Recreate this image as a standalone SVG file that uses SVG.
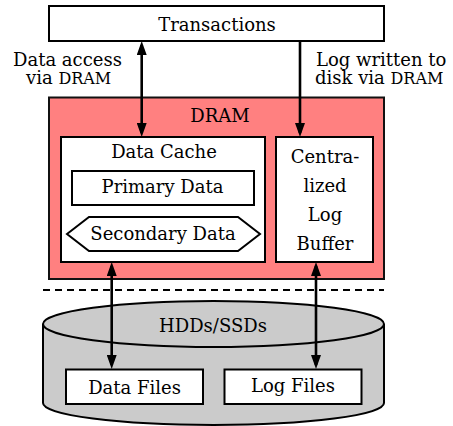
<svg xmlns="http://www.w3.org/2000/svg" width="453" height="426" viewBox="0 0 453 426">
<style>
text{font-family:"DejaVu Serif","Liberation Serif",serif;font-size:18px;fill:#000}
.c{text-anchor:middle}
.box{fill:#fff;stroke:#000;stroke-width:2}
.conn{stroke:#000;stroke-width:2.6;fill:none}
.sc{font-size:16px}
</style>
<defs>
<marker id="ah" viewBox="0 0 14 10" refX="10" refY="5" markerWidth="14" markerHeight="10" markerUnits="userSpaceOnUse" orient="auto-start-reverse">
<path d="M0,0 L14,5 L0,10 z" fill="#000"/>
</marker>
</defs>
<rect width="453" height="426" fill="#fff"/>

<g id="transactions">
<rect class="box" x="49" y="6" width="335" height="35"/>
<text class="c" x="217" y="30.5">Transactions</text>
</g>

<g id="labels">
<text x="13" y="66">Data access</text>
<text x="26" y="83.5">via <tspan class="sc">DRAM</tspan></text>
<text x="316" y="66">Log written to</text>
<text x="315" y="83.5">disk via <tspan class="sc">DRAM</tspan></text>
</g>

<g id="dram">
<rect x="49" y="97.5" width="335" height="181.5" fill="#ff8080" stroke="#111" stroke-width="2"/>
<text class="c" x="220" y="122">DRAM</text>
</g>

<g id="data-cache">
<rect class="box" x="61" y="137" width="204" height="125"/>
<text class="c" x="164" y="158">Data Cache</text>
</g>

<g id="primary-data">
<rect class="box" x="72" y="171" width="182" height="34"/>
<text class="c" x="162.5" y="193">Primary Data</text>
</g>

<g id="secondary-data">
<polygon class="box" points="67,234 89,217 238,217 260,234 238,251 89,251"/>
<text class="c" x="163" y="240">Secondary Data</text>
</g>

<g id="log-buffer">
<rect class="box" x="276" y="137" width="97" height="125"/>
<text class="c" x="325" y="163">Centra-</text>
<text class="c" x="325" y="192">lized</text>
<text class="c" x="325" y="221">Log</text>
<text class="c" x="325" y="250">Buffer</text>
</g>

<line x1="43" y1="290" x2="384" y2="290" stroke="#000" stroke-width="2" stroke-dasharray="7 5"/>

<g id="storage">
<path d="M43,324 L43,403 A170.5,22 0 0 0 384,403 L384,324" fill="#cbcbcb" stroke="#000" stroke-width="2"/>
<ellipse cx="213.5" cy="324" rx="170.5" ry="23" fill="#cbcbcb" stroke="#000" stroke-width="2"/>
<text class="c" x="213" y="332">HDDs/SSDs</text>
</g>

<g id="data-files">
<rect class="box" x="66" y="369.5" width="137" height="34.5"/>
<text class="c" x="134.5" y="394">Data Files</text>
</g>

<g id="log-files">
<rect class="box" x="224.5" y="369.5" width="137" height="34.5"/>
<text class="c" x="293" y="392">Log Files</text>
</g>

<g id="connectors">
<line class="conn" x1="141.7" y1="45" x2="141.7" y2="133" marker-start="url(#ah)" marker-end="url(#ah)"/>
<line class="conn" x1="300" y1="41" x2="300" y2="133" marker-end="url(#ah)"/>
<line class="conn" x1="111.7" y1="266" x2="111.7" y2="365" marker-start="url(#ah)" marker-end="url(#ah)"/>
<line class="conn" x1="316" y1="266" x2="316" y2="365" marker-start="url(#ah)" marker-end="url(#ah)"/>
</g>
</svg>
